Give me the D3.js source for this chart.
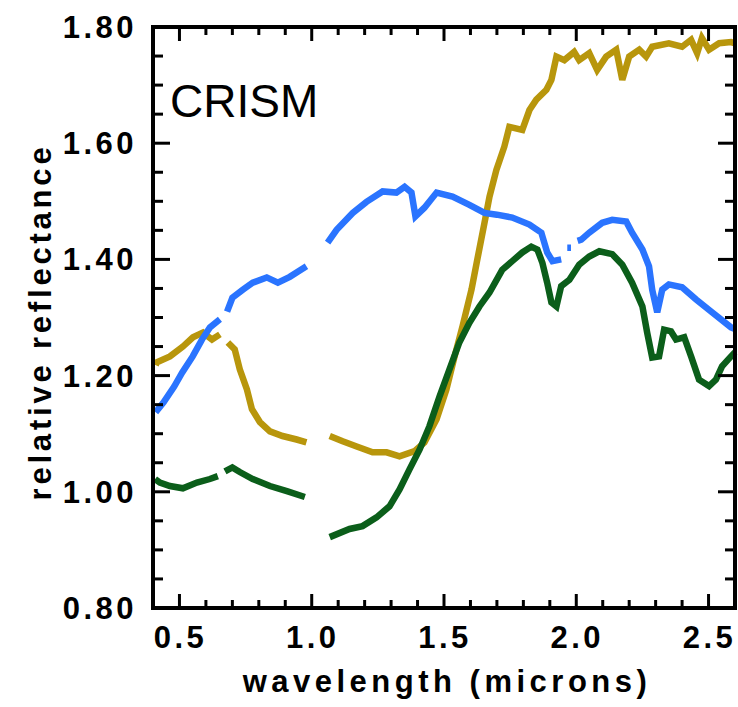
<!DOCTYPE html>
<html>
<head>
<meta charset="utf-8">
<script src="https://cdn.jsdelivr.net/npm/d3@7"></script>
<style>
  body { margin: 0; background: #fff; }
  svg text { font-family: "Liberation Sans", Arial, Helvetica, sans-serif; }
</style>
</head>
<body>
<div id="chart"></div>
<script>
// spectra: [wavelength (microns), relative reflectance], null = detector gap
const blueSpectrum = [
  [0.41, 1.137], [0.44, 1.154], [0.48, 1.181], [0.51, 1.205], [0.55, 1.233], [0.585, 1.262],
  [0.615, 1.283], [0.653, 1.297], null,
  [0.68, 1.31], [0.70, 1.334], [0.74, 1.348], [0.777, 1.36], [0.83, 1.369], [0.872, 1.36],
  [0.917, 1.37], [0.98, 1.388], null,
  [1.06, 1.429], [1.094, 1.451], [1.155, 1.48], [1.207, 1.499], [1.268, 1.517], [1.32, 1.515],
  [1.351, 1.525], [1.377, 1.515], [1.392, 1.474], [1.426, 1.489], [1.472, 1.515], [1.532, 1.508],
  [1.596, 1.494], [1.653, 1.48], [1.70, 1.477], [1.758, 1.472], [1.823, 1.46], [1.868, 1.446],
  [1.89, 1.412], [1.91, 1.397], [1.943, 1.40], null,
  [1.966, 1.42], [1.98, 1.42], null,
  [2.005, 1.432], [2.019, 1.434], [2.049, 1.446], [2.098, 1.463], [2.136, 1.468], [2.189, 1.465],
  [2.211, 1.446], [2.25, 1.417], [2.275, 1.388], [2.287, 1.348], [2.306, 1.309], [2.325, 1.348],
  [2.35, 1.357], [2.40, 1.352], [2.453, 1.331], [2.513, 1.309], [2.585, 1.283], [2.6, 1.28]
];

const goldSpectrum = [
  [0.41, 1.218], [0.415, 1.223], [0.464, 1.233], [0.513, 1.25], [0.551, 1.266], [0.589, 1.274],
  [0.623, 1.262], [0.653, 1.271], null,
  [0.683, 1.257], [0.709, 1.245], [0.728, 1.211], [0.755, 1.176], [0.774, 1.142], [0.804, 1.12],
  [0.842, 1.104], [0.89, 1.096], [0.943, 1.09], [0.98, 1.085], null,
  [1.068, 1.096], [1.117, 1.087], [1.17, 1.078], [1.23, 1.068], [1.283, 1.068], [1.332, 1.061],
  [1.389, 1.07], [1.426, 1.085], [1.472, 1.125], [1.509, 1.176], [1.54, 1.233], [1.57, 1.285],
  [1.604, 1.348], [1.626, 1.40], [1.653, 1.463], [1.672, 1.508], [1.698, 1.554], [1.728, 1.594],
  [1.747, 1.628], [1.796, 1.623], [1.823, 1.657], [1.849, 1.675], [1.887, 1.692], [1.906, 1.709],
  [1.925, 1.749], [1.955, 1.743], [1.992, 1.757], [2.011, 1.743], [2.049, 1.755], [2.079, 1.726],
  [2.113, 1.749], [2.151, 1.761], [2.174, 1.709], [2.20, 1.749], [2.238, 1.761], [2.264, 1.749],
  [2.287, 1.766], [2.35, 1.772], [2.40, 1.766], [2.434, 1.778], [2.457, 1.755], [2.475, 1.781],
  [2.502, 1.761], [2.54, 1.772], [2.585, 1.774], [2.6, 1.772]
];

const greenSpectrum = [
  [0.408, 1.022], [0.426, 1.016], [0.464, 1.01], [0.513, 1.006], [0.566, 1.016], [0.615, 1.022],
  [0.645, 1.027], null,
  [0.672, 1.035], [0.70, 1.042], [0.728, 1.034], [0.777, 1.022], [0.842, 1.01], [0.906, 1.001],
  [0.974, 0.991], null,
  [1.068, 0.922], [1.143, 0.936], [1.192, 0.941], [1.245, 0.956], [1.294, 0.975], [1.332, 1.004],
  [1.37, 1.039], [1.408, 1.073], [1.445, 1.113], [1.483, 1.164], [1.521, 1.211], [1.558, 1.257],
  [1.596, 1.291], [1.634, 1.319], [1.672, 1.343], [1.72, 1.382], [1.758, 1.397], [1.796, 1.412],
  [1.83, 1.422], [1.853, 1.417], [1.872, 1.394], [1.89, 1.36], [1.906, 1.326], [1.925, 1.319],
  [1.943, 1.354], [1.974, 1.365], [2.011, 1.391], [2.049, 1.405], [2.087, 1.414], [2.136, 1.409],
  [2.174, 1.391], [2.211, 1.36], [2.25, 1.319], [2.268, 1.274], [2.287, 1.231], [2.313, 1.233],
  [2.332, 1.279], [2.358, 1.276], [2.377, 1.262], [2.408, 1.266], [2.434, 1.233], [2.464, 1.193],
  [2.502, 1.182], [2.528, 1.193], [2.551, 1.216], [2.585, 1.233], [2.6, 1.24]
];

const xTickValues = [0.5, 1.0, 1.5, 2.0, 2.5];
const yTickValues = [0.8, 1.0, 1.2, 1.4, 1.6, 1.8];

const width = 738;
const height = 707;
const margin = {top: 27, right: 3, bottom: 99, left: 153};

const x = d3.scaleLinear().domain([0.4, 2.6]).range([margin.left, width - margin.right]);
const y = d3.scaleLinear().domain([0.8, 1.8]).range([height - margin.bottom, margin.top]);

const svg = d3.select("#chart").append("svg")
    .attr("width", width)
    .attr("height", height);

// spectra
const line = d3.line()
    .defined(d => d !== null)
    .x(d => x(d[0]))
    .y(d => y(d[1]));

const series = [
    {data: goldSpectrum, color: "#b8960c"},
    {data: blueSpectrum, color: "#2a74ff"},
    {data: greenSpectrum, color: "#0b5e1a"}
];

const plot = svg.append("g");
series.forEach(s => {
    plot.append("path")
        .datum(s.data)
        .attr("fill", "none")
        .attr("stroke", s.color)
        .attr("stroke-width", 6.5)
        .attr("stroke-linejoin", "miter")
        .attr("d", line);
});

// minor/major ticks on all four sides, pointing inward
const xMinor = d3.range(0.4, 2.61, 0.1).map(v => +v.toFixed(2));
const yMinor = d3.range(0.8, 1.81, 0.05).map(v => +v.toFixed(2));
const isMajorX = v => Math.abs(v * 2 - Math.round(v * 2)) < 1e-6;
const isMajorY = v => Math.abs(v * 5 - Math.round(v * 5)) < 1e-6;

const [yBottom, yTop] = y.range();
const [xLeft, xRight] = x.range();
const ticks = svg.append("g");
xMinor.forEach(v => {
    const len = isMajorX(v) ? 14 : 8;
    ticks.append("line").attr("x1", x(v)).attr("x2", x(v))
        .attr("y1", yBottom).attr("y2", yBottom - len)
        .attr("stroke", "#000").attr("stroke-width", 3);
    ticks.append("line").attr("x1", x(v)).attr("x2", x(v))
        .attr("y1", yTop).attr("y2", yTop + len)
        .attr("stroke", "#000").attr("stroke-width", 3);
});
yMinor.forEach(v => {
    const len = isMajorY(v) ? 17 : 10;
    ticks.append("line").attr("y1", y(v)).attr("y2", y(v))
        .attr("x1", xLeft).attr("x2", xLeft + len)
        .attr("stroke", "#000").attr("stroke-width", 3);
    ticks.append("line").attr("y1", y(v)).attr("y2", y(v))
        .attr("x1", xRight).attr("x2", xRight - len)
        .attr("stroke", "#000").attr("stroke-width", 3);
});

// frame
svg.append("rect")
    .attr("x", xLeft)
    .attr("y", yTop)
    .attr("width", xRight - xLeft)
    .attr("height", yBottom - yTop)
    .attr("fill", "none")
    .attr("stroke", "#000")
    .attr("stroke-width", 4);

// tick labels
svg.append("g").selectAll("text")
    .data(yTickValues)
    .join("text")
    .attr("x", 137)
    .attr("y", d => y(d) + 11)
    .attr("text-anchor", "end")
    .attr("font-size", 31)
    .attr("font-weight", "bold")
    .attr("letter-spacing", 3.5)
    .text(d => d.toFixed(2));

svg.append("g").selectAll("text")
    .data(xTickValues)
    .join("text")
    .attr("x", d => x(d) + 1)
    .attr("y", 648)
    .attr("text-anchor", "middle")
    .attr("font-size", 31)
    .attr("font-weight", "bold")
    .attr("letter-spacing", 3.5)
    .text(d => d.toFixed(1));

// axis titles
svg.append("text")
    .attr("x", 447)
    .attr("y", 692)
    .attr("text-anchor", "middle")
    .attr("font-size", 31)
    .attr("font-weight", "bold")
    .attr("letter-spacing", 4.5)
    .text("wavelength (microns)");

svg.append("text")
    .attr("transform", "translate(51," + 322 + ") rotate(-90)")
    .attr("text-anchor", "middle")
    .attr("font-size", 31)
    .attr("font-weight", "bold")
    .attr("letter-spacing", 3.8)
    .text("relative reflectance");

svg.append("text")
    .attr("x", 170)
    .attr("y", 117)
    .attr("font-size", 46)
    .text("CRISM");
</script>
</body>
</html>
